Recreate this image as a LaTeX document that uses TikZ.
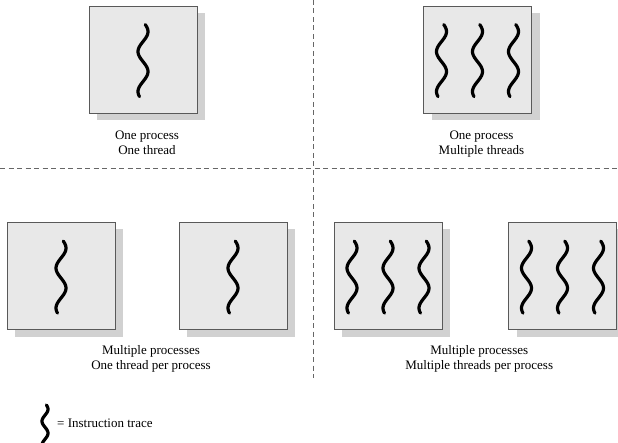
\documentclass[tikz,border=0pt]{standalone}
\usepackage{fontspec}
\setmainfont{Liberation Serif}
\usetikzlibrary{positioning,calc,shadows}

% one instruction trace: #1 = top point, #2 = amplitude, #3 = vertical scale
\newcommand{\itrace}[3]{%
  \draw[trace, shift={#1}] plot[domain=0:72, samples=60, smooth]
    ({#2*sin(9*(\x+3))}, {-#3*\x});}

\begin{document}
\begin{tikzpicture}[x=1pt, y=1pt,
        process/.style={
            draw=black!65, line width=0.8pt, fill=black!9,
            minimum width=108pt, minimum height=107pt, inner sep=0pt,
            drop shadow={shadow xshift=8pt, shadow yshift=-7pt,
                         fill=black!18, draw=none, opacity=1}
        },
        trace/.style={line width=3.2pt, line cap=round, black},
        caption/.style={align=center, inner sep=0pt, text=black,
                        font=\fontsize{13pt}{15pt}\selectfont},
        divider/.style={draw=black!60, line width=0.7pt,
                        dash pattern=on 5pt off 3.5pt}
    ]
    \useasboundingbox (0,0) rectangle (618,442);

    % dividing lines
    \coordinate (hl) at (0,274);
    \coordinate (hr) at (618,274);
    \coordinate (vt) at (313,442);
    \coordinate (vb) at (313,64);
    \draw[divider] (hl) -- (hr);
    \draw[divider] (vt) -- (vb);

    % processes
    \node[process] (b1) at (143,382.5) {};
    \node[process] (b2) at (477.5,382.5) {};
    \node[process] (pA) at (61,166) {};
    \node[process] (pB) at (233,166) {};
    \node[process] (pC) at (388,166) {};
    \node[process] (pD) at (562.5,166) {};

    % threads
    \foreach \p in {b1,pA,pB}{
        \itrace{($(\p.north)+(0,-19)$)}{5}{1}
    }
    \foreach \p in {b2,pC,pD}{
        \foreach \dx in {-36,0,36}{
            \itrace{($(\p.north)+(\dx,-19)$)}{5}{1}
        }
    }

    % captions
    \node[caption, below=17pt of b1, xshift=4pt] (c1) {One process\\One thread};
    \node[caption, below=17pt of b2, xshift=4pt] (c2) {One process\\Multiple threads};
    \coordinate (mAB) at ($(pA.south)!0.5!(pB.south)$);
    \coordinate (mCD) at ($(pC.south)!0.5!(pD.south)$);
    \node[caption, below=15pt of mAB, xshift=4pt] (c3) {Multiple processes\\One thread per process};
    \node[caption, below=15pt of mCD, xshift=4pt] (c4) {Multiple processes\\Multiple threads per process};

    % key
    \coordinate (key) at (45,37);
    \begin{scope}
        \clip (0,0) rectangle (618,442);
        \itrace{(key)}{3}{0.6}
    \end{scope}
    \node[caption, anchor=west] (keytext) at ($(key)+(12,-18)$) {= Instruction trace};
\end{tikzpicture}
\end{document}
